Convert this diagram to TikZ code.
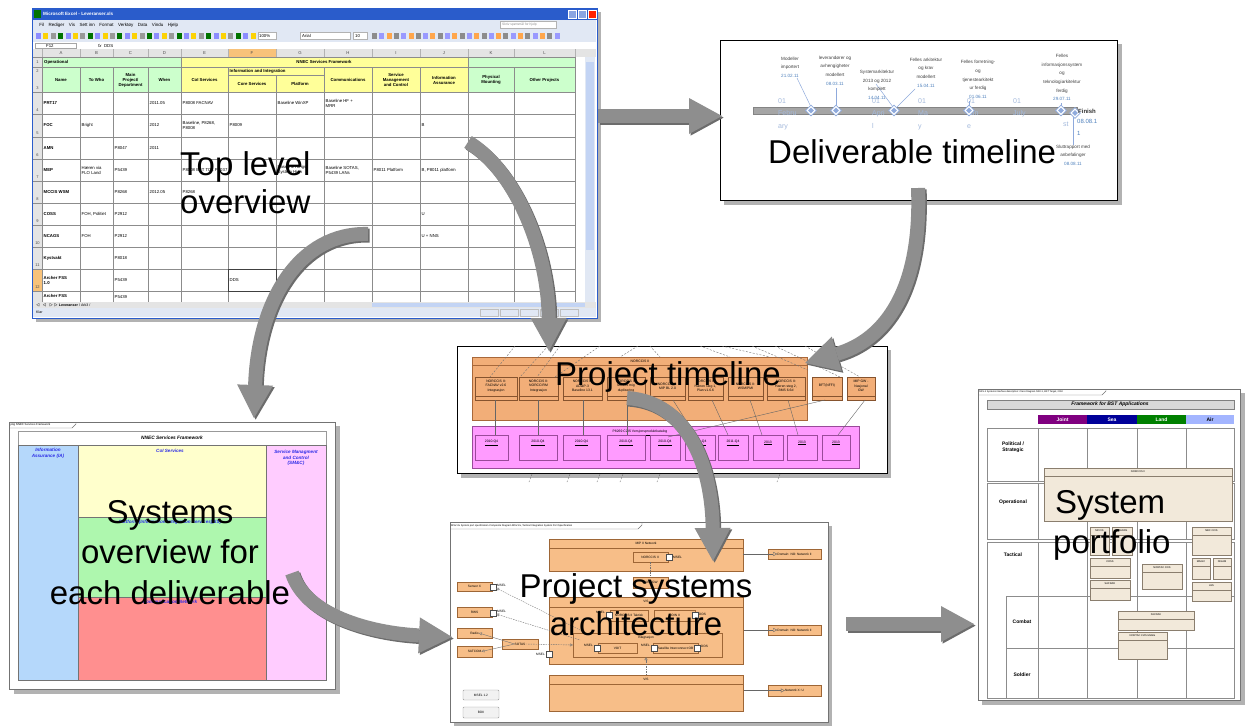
\documentclass[tikz,border=0pt]{standalone}
\usepackage{fontspec}
\setmainfont{Liberation Sans}
\usetikzlibrary{arrows.meta,shapes.geometric}
\definecolor{arrowgray}{HTML}{8E8E8E}
\definecolor{arrowshadow}{HTML}{6C6C6C}
\definecolor{xpblue}{HTML}{2A5CCB}
\definecolor{xpbar}{HTML}{E1E8F4}
\definecolor{hdrgray}{HTML}{E4E4E4}
\definecolor{xlgreen}{HTML}{CCFFCC}
\definecolor{xlyellow}{HTML}{FFFF99}
\definecolor{selorange}{HTML}{F8C27A}
\definecolor{scrollblue}{HTML}{C3D4F4}
\definecolor{tlbar}{HTML}{A5A5A5}
\definecolor{msblue}{HTML}{8FAADC}
\definecolor{datblue}{HTML}{4F81BD}
\definecolor{monblue}{HTML}{A3B9DC}
\definecolor{ptorange}{HTML}{F2AE78}
\definecolor{ptoborder}{HTML}{A8683A}
\definecolor{ptmag}{HTML}{FF9BFF}
\definecolor{ptmagb}{HTML}{9A4A9A}
\definecolor{iablue}{HTML}{B5D8FB}
\definecolor{coiyel}{HTML}{FFFFCC}
\definecolor{iisgreen}{HTML}{AEF7AE}
\definecolor{cnred}{HTML}{FF8F8F}
\definecolor{smpink}{HTML}{FFCCFF}
\definecolor{labblue}{HTML}{2A2AE6}
\definecolor{psorange}{HTML}{F7BE88}
\definecolor{psborder}{HTML}{9E6636}
\definecolor{cream}{HTML}{F2E9DA}
\definecolor{creamb}{HTML}{8A7E6E}
\definecolor{jointc}{HTML}{800080}
\definecolor{seac}{HTML}{000099}
\definecolor{landc}{HTML}{008000}
\definecolor{airc}{HTML}{A3B5FF}
\tikzset{
  bigl/.style={font=\fontsize{33}{38}\selectfont, inner sep=0pt, anchor=base west},
  bigc/.style={font=\fontsize{33}{38}\selectfont, inner sep=0pt, anchor=base},
  xt/.style={font=\fontsize{4.3}{5}\selectfont, inner sep=0pt, anchor=west, align=left},
  xh/.style={font=\bfseries\fontsize{4.3}{5}\selectfont, inner sep=0pt, align=center},
  xgrid/.style={draw=black!45, line width=0.4pt},
  ms/.style={font=\fontsize{4.6}{8.6}\selectfont, text=black!75, align=center, inner sep=0pt},
  mon/.style={font=\fontsize{7}{12.5}\selectfont, text=monblue, align=left, inner sep=0pt, anchor=north west},
  pt/.style={font=\fontsize{3.4}{4.3}\selectfont, inner sep=0pt, align=center},
  pa/.style={font=\fontsize{3.2}{3.8}\selectfont, inner sep=0pt, align=center},
  sov/.style={font=\bfseries\itshape\fontsize{4.6}{5.6}\selectfont, text=labblue, inner sep=0pt, align=center},
  pf/.style={font=\bfseries\fontsize{5}{6.2}\selectfont, inner sep=0pt, align=center},
  pfbox/.style={fill=cream, draw=creamb, line width=0.4pt},
  psbox/.style={fill=psorange, draw=psborder, line width=0.4pt},
  port/.style={fill=white, draw=black!70, line width=0.3pt},
  bigarrow/.style={line width=14pt, draw=arrowgray, -{Triangle[width=36pt,length=33pt,line width=0pt]}},
  arrowsh/.style={line width=14pt, draw=arrowshadow, -{Triangle[width=36pt,length=33pt,line width=0pt]}, transform canvas={shift={(1.6pt,-1.6pt)}}},
  tab/.style={draw=black!55, line width=0.4pt}
}
\begin{document}
\begin{tikzpicture}[x=1pt,y=-1pt]
\useasboundingbox (0,0) rectangle (1251,726);
\fill[white] (0,0) rectangle (1251,726);

% ================= Panel 1: Excel =================
\fill[black!30] (36,12) rectangle (601,322);
\node[anchor=north west, minimum width=565pt, minimum height=310pt, inner sep=0pt, fill=white, draw=xpblue, line width=1pt] (excel) at (32,8) {};
\fill[xpblue] (32,8) rectangle (597,20);
\fill[green!45!black] (34,10) rectangle (41,18);
\node[font=\bfseries\fontsize{4.6}{5}\selectfont, text=white, inner sep=0pt, anchor=west] (xltitle) at (43,14) {Microsoft Excel - Leveranser.xls};
\filldraw[fill=xpblue!55!white, draw=white, line width=0.4pt] (568,10) rectangle (576,18);
\filldraw[fill=xpblue!55!white, draw=white, line width=0.4pt] (578,10) rectangle (586,18);
\filldraw[fill=red!75!orange, draw=white, line width=0.4pt] (588,10) rectangle (596,18);
\fill[xpbar] (33,20) rectangle (596,42);
\node[xt] (xlmenu) at (37,25) {\fontsize{4.5}{5}\selectfont\,\,\,Fil\quad Rediger\quad Vis\quad Sett inn\quad Format\quad Verktøy\quad Data\quad Vindu\quad Hjelp};
\filldraw[fill=white, draw=black!30, line width=0.3pt] (500,21.5) rectangle (556,28.5);
\node[xt, text=black!45] (xlhelp) at (502,25) {\fontsize{3.3}{4}\selectfont Skriv spørsmål for hjelp};
\foreach \i in {0,...,29}{
  \pgfmathtruncatemacro\m{mod(\i,4)}
  \ifcase\m \def\cc{blue!45}\or \def\cc{yellow!70!orange}\or \def\cc{black!40}\or \def\cc{green!45!black}\fi
  \fill[\cc] (36+7.4*\i,33) rectangle ++(5,6);}
\filldraw[fill=white, draw=black!30, line width=0.3pt] (258,32.5) rectangle (276,39.5);
\node[xt] (xlzoom) at (259,36) {100\%};
\filldraw[fill=white, draw=black!30, line width=0.3pt] (300,32.5) rectangle (350,39.5);
\node[xt] (xlfont) at (302,36) {Arial};
\filldraw[fill=white, draw=black!30, line width=0.3pt] (353,32.5) rectangle (367,39.5);
\node[xt] (xlsize) at (355,36) {10};
\foreach \i in {0,...,25}{
  \pgfmathtruncatemacro\m{mod(\i,3)}
  \ifcase\m \def\cc{black!45}\or \def\cc{blue!40}\or \def\cc{orange!70}\fi
  \fill[\cc] (372+7.3*\i,33) rectangle ++(5,6);}
% formula bar
\fill[white] (33,42) rectangle (596,49);
\draw[black!35, line width=0.3pt] (35,43) rectangle (76,48.5);
\node[xt] (xlcell) at (46,45.8) {F12};
\node[xt] (xldds) at (98,45.8) {\textit{fx}\; DDS};
% headers
\fill[hdrgray] (33,49) rectangle (596,57);
\fill[selorange] (228,49) rectangle (276,57);
\fill[hdrgray] (33,57) rectangle (42,302);
\fill[selorange] (33,269) rectangle (42,291);
\foreach \a/\b/\l [count=\n] in {42/80/A,80/113/B,113/148/C,148/181/D,181/228/E,228/276/F,276/324/G,324/372/H,372/420/I,420/468/J,468/514/K,514/575/L}
  \node[font=\fontsize{4.3}{5}\selectfont, inner sep=0pt, text=black!70] (xcol\n) at ({(\a+\b)/2},53) {\l};
\fill[xlgreen] (42,57) rectangle (181,92);
\fill[xlyellow] (181,57) rectangle (468,92);
\fill[xlgreen] (468,57) rectangle (575,92);
% grid
\foreach \c in {42,80,113,148,181,228,276,324,372,420,468,514,575}
  \draw[black!30, line width=0.3pt] (\c,49) -- (\c,57);
\foreach \c in {42,181,468,575} \draw[xgrid] (\c,57) -- (\c,67);
\foreach \c in {42,80,113,148,181,228,324,372,420,468,514,575} \draw[xgrid] (\c,67) -- (\c,92);
\draw[xgrid] (276,75) -- (276,92);
\draw[xgrid] (228,75) -- (324,75);
\foreach \c in {42,80,113,148,181,228,276,324,372,420,468,514,575} \draw[xgrid] (\c,92) -- (\c,302);
\foreach \r in {57,67,92,114,137,159,181,203,225,247,269,291} \draw[xgrid] (33,\r) -- (575,\r);
\draw[black!75, line width=0.9pt] (228,269) rectangle (276,291);
% header texts
\node[xh, anchor=west] (h1) at (44,62) {Operational};
\node[xh] (h2) at (324,62) {NNEC Services Framework};
\node[xh] (h3) at (61,80) {Name};
\node[xh] (h4) at (96.5,80) {To Who};
\node[xh] (h5) at (130.5,80) {Main\\Project/\\Department};
\node[xh] (h6) at (164.5,80) {When};
\node[xh] (h7) at (204.5,80) {CoI Services};
\node[xh, anchor=west] (h8) at (229.5,71) {Information and Integration};
\node[xh] (h9) at (252,84) {Core Services};
\node[xh] (h10) at (300,84) {Platform};
\node[xh] (h11) at (348,80) {Communications};
\node[xh] (h12) at (396,80) {Service\\Management\\and Control};
\node[xh] (h13) at (444,80) {Information\\Assurance};
\node[xh] (h14) at (491,80) {Physical\\Mounting};
\node[xh] (h15) at (544.5,80) {Other Projects};
\foreach \y/\l [count=\n] in {62/1,71/2,88/3,110/4,133/5,155/6,177/7,199/8,221/9,243/10,265/11,287/12}
  \node[font=\fontsize{4}{5}\selectfont, inner sep=0pt, text=black!70] (xrow\n) at (37.5,\y) {\l};
\begin{scope}
\clip (42,92) rectangle (575,302);
\foreach \x/\y/\t [count=\n] in {
  43.5/103/\textbf{PRT17}, 149.5/103/2011.05, 182.5/103/P8008 FACNAV, 277.5/103/Baseline WinXP, 325.5/103/{Baseline HF +\\MRR},
  43.5/125.5/\textbf{FOC}, 81.5/125.5/Bright, 149.5/125.5/2012, 182.5/125.5/{Baseline, P8268,\\P8008}, 229.5/125.5/P8009, 421.5/125.5/B,
  43.5/148/\textbf{AMN}, 114.5/148/P8047, 149.5/148/2011,
  43.5/170/\textbf{MEP}, 81.5/170/{Hæren via\\FLO Land}, 114.5/170/P5439, 182.5/170/P8008 BFT TDL P8037, 277.5/170/{Baseline Rings\\System High}, 325.5/170/{Baseline SOTAS,\\P5439 LANs}, 373.5/170/P8011 Platform, 421.5/170/{B, P8011 platform},
  43.5/192/\textbf{MCCIS WSM}, 114.5/192/P8268, 149.5/192/2012.05, 182.5/192/P8268,
  43.5/214/\textbf{COSS}, 81.5/214/{FOH, Politiet}, 114.5/214/P2912, 421.5/214/U,
  43.5/236/\textbf{NCAGS}, 81.5/236/FOH, 114.5/236/P2912, 421.5/236/U + NNS,
  43.5/258/\textbf{Kystvakt}, 114.5/258/P8018,
  43.5/280/{\textbf{Archer FSS}\\\textbf{1.0}}, 114.5/280/P5439, 229.5/280/DDS,
  43.5/296/\textbf{Archer FSS}, 114.5/297/P5439}
  \node[xt] (xd\n) at (\x,\y) {\t};
\end{scope}
% scrollbars, tabs, status
\fill[xpbar] (585,57) rectangle (595,302);
\fill[scrollblue] (586,62) rectangle (594,250);
\fill[hdrgray] (33,302) rectangle (596,308);
\node[xt] (xltabs) at (36,305) {\fontsize{3.6}{4}\selectfont $\triangleleft\,\triangleleft\,\triangleright\,\triangleright$\;\textbf{Leveranser} / Ark3 /};
\fill[scrollblue] (372,303) rectangle (585,307);
\fill[xpbar] (33,308) rectangle (596,317);
\node[xt] (xlstatus) at (36,312.5) {\fontsize{3.6}{4}\selectfont Klar};
\foreach \x in {480,500,520,540,560} \draw[black!25, line width=0.3pt] (\x,309) rectangle ++(18,7);

% ================= Panel 2: Deliverable timeline =================
\fill[black!30] (724,44) rectangle (1122,205);
\node[anchor=north west, minimum width=397pt, minimum height=160pt, inner sep=0pt, fill=white, draw=black, line width=1pt] (dtl) at (720,40) {};
\node[draw=tlbar!80!black, fill=tlbar, line width=0.3pt, anchor=north west, minimum width=324pt, minimum height=7.3pt, inner sep=0pt] (tlbar) at (753,106.7) {};
\node[mon] (m1) at (778,98) {01\\Febru\\ary};
\node[mon] (m2) at (872,98) {01\\Apri\\l};
\node[mon] (m3) at (918,98) {01\\Ma\\y};
\node[mon] (m4) at (967,98) {01\\Jun\\e};
\node[mon] (m5) at (1013,98) {01\\July};
\node[mon] (m6) at (1063,122) {st};
\draw[msblue, line width=0.5pt] (797,78) -- (811,107);
\draw[msblue, line width=0.5pt] (836,88) -- (836,107);
\draw[msblue, line width=0.5pt] (876,84) -- (893,107);
\draw[msblue, line width=0.5pt] (915,89) -- (897,107);
\draw[msblue, line width=0.5pt] (969,101) -- (969,107);
\draw[msblue, line width=0.5pt] (1061,103) -- (1061,107);
\draw[msblue, line width=0.5pt] (1073,116) -- (1073,145);
\foreach \x/\y [count=\n] in {811/110.5,836/110.5,894/110.5,969/110.5,1061/110.5,1075/113}{
  \node[diamond, draw=msblue, fill=white, line width=0.7pt, minimum size=11pt, inner sep=0pt] (dia\n) at (\x,\y) {};
  \node[diamond, fill=msblue, minimum size=6pt, inner sep=0pt] (dib\n) at (\x,\y) {};}
\node[ms] (l1) at (790,67) {Modeller\\importert\\\textcolor{datblue}{21.02.11}};
\node[ms] (l2) at (835,70.5) {leverandører og\\avhengigheter\\modellert\\\textcolor{datblue}{08.03.11}};
\node[ms] (l3) at (877,85) {Systemarkitektur\\2013 og 2012\\komplett\\\textcolor{datblue}{14.04.11}};
\node[ms] (l4) at (926,72.5) {Felles arkitektur\\og krav\\modellert\\\textcolor{datblue}{15.04.11}};
\node[ms] (l5) at (978,79.5) {Felles forretning-\\og\\tjenestearkitekt\\ur ferdig\\\textcolor{datblue}{01.06.11}};
\node[ms] (l6) at (1062,77.5) {Felles\\informasjonssystem\\og\\teknologiarkitektur\\ferdig\\\textcolor{datblue}{29.07.11}};
\node[font=\bfseries\fontsize{6}{7}\selectfont, inner sep=0pt, anchor=west, text=black!80] (fin) at (1078,111) {Finish};
\node[font=\fontsize{6}{12}\selectfont, inner sep=0pt, anchor=north west, text=datblue, align=left] (find) at (1077,119) {08.08.1\\1};
\node[ms] (l7) at (1073,155) {Sluttrapport med\\anbefalinger\\\textcolor{datblue}{08.08.11}};

% ================= Panel 3: Project timeline =================
\fill[black!30] (461,350) rectangle (891,478);
\node[anchor=north west, minimum width=430pt, minimum height=127pt, inner sep=0pt, fill=white, draw=black, line width=1pt] (ptl) at (457,346) {};
\node[anchor=north west, minimum width=335pt, minimum height=63pt, inner sep=0pt, fill=ptorange, draw=ptoborder, line width=0.4pt] (ptcont) at (472,357) {};
\draw[ptoborder, line width=0.4pt] (472,365) -- (807,365);
\node[pt] (ptct) at (640,361) {NORCCIS II};
\foreach \a/\b/\t [count=\n] in {475/517/{NORCCIS II:\\FACNAV v2.6\\Integrasjon}, 519/558/{NORCCIS II:\\NORCCIRM\\Integrasjon}, 563/602/{NORCCIS II:\\ADatP-3\\Baseline 13.1}, 607/645/{NORCCIS II:\\MCCIS mig\\duplisering}, 650/685/{NORCCIS II:\\MIP BL 2.0}, 688/723/{NORCCIS II:\\Hæren steg 1,\\Plan v1.6.6}, 728/763/{NORCCIS II:\\WSM/PMI}, 767/805/{NORCCIS II:\\Hæren steg 2,\\BMS 6.6d}, 812/842/{BFT(NFFI)}, 847/875/{MIP GW -\\Nasjonal\\GW}}{
  \filldraw[fill=ptorange, draw=ptoborder!80!black, line width=0.4pt] (\a,377) rectangle (\b,400);
  \draw[ptoborder!80!black, line width=0.3pt] (\a,396) -- (\b,396);
  \node[pt] (ptb\n) at ({(\a+\b)/2},386) {\t};}
\node[anchor=north west, minimum width=387pt, minimum height=42pt, inner sep=0pt, fill=ptmag, draw=ptmagb, line width=0.4pt] (ptmagc) at (472,426) {};
\node[pt] (ptmt) at (640,433) {\underline{P8269 C2IS Versjonsproduktkatalog}};
\foreach \a/\b/\t [count=\n] in {475/508/2010-Q4, 519/557/2010-Q4, 563/600/2010-Q4, 607/645/2010-Q4, 650/680/2010-Q4, 685/715/2011-Q4, 718/748/2011-Q4, 753/783/2013, 787/817/2013, 822/850/2013}{
  \filldraw[fill=ptmag, draw=ptmagb, line width=0.4pt] (\a,435) rectangle (\b,460);
  \node[pt] (ptm\n) at ({(\a+\b)/2},443) {\underline{\t}};}
\foreach \a/\b/\c/\d in {495/400/495/435, 538/400/538/435, 583/400/583/435, 627/400/627/435, 673/400/695/435, 712/400/728/435, 750/400/762/435, 788/400/798/435, 825/400/668/437, 865/400/838/435}
  \draw[black!60, line width=0.4pt] (\a,\b) -- (\c,\d);
\begin{scope}
\clip (457,346) rectangle (887,377);
\foreach \a/\b/\c/\d in {548/346/520/377, 560/346/537/377, 600/346/555/377, 638/346/620/357, 650/346/660/357, 700/346/730/357, 722/346/770/357, 752/346/808/370, 775/346/840/377, 805/346/860/377, 842/346/832/357, 515/346/490/377}
  \draw[black!55, line width=0.4pt, dash pattern=on 2pt off 1.5pt] (\a,\b) -- (\c,\d);
\end{scope}
\foreach \x in {532,570,600,623,660,780}
  \draw[black!55, line width=0.4pt, dash pattern=on 2pt off 1.5pt] (\x,474) -- (\x-3,482);

% ================= Panel 4: Systems overview =================
\fill[black!30] (14,426) rectangle (340,694);
\node[anchor=north west, minimum width=326pt, minimum height=267pt, inner sep=0pt, fill=white, draw=black!55, line width=0.5pt] (sov) at (9,422) {};
\draw[tab] (9,428) -- (72,428) -- (76,424) -- (76,422);
\node[font=\fontsize{2.8}{3}\selectfont, inner sep=0pt, anchor=west] (sovtab) at (10.5,425) {pkg NNEC Services Framework};
\filldraw[fill=white, draw=black!40, line width=0.4pt] (18,431) rectangle (326,445);
\node[font=\bfseries\itshape\fontsize{4.8}{5.6}\selectfont, inner sep=0pt] (sovh) at (172,438) {NNEC Services Framework};
\filldraw[fill=iablue, draw=black!55, line width=0.4pt] (18,445) rectangle (78,680);
\filldraw[fill=coiyel, draw=black!55, line width=0.4pt] (78,445) rectangle (266,517);
\filldraw[fill=iisgreen, draw=black!55, line width=0.4pt] (78,517) rectangle (266,597);
\filldraw[fill=cnred, draw=black!55, line width=0.4pt] (78,597) rectangle (266,680);
\filldraw[fill=smpink, draw=black!55, line width=0.4pt] (266,445) rectangle (326,680);
\node[sov] (sia) at (48,453.5) {Information\\Assurance (IA)};
\node[sov] (scoi) at (170,451) {CoI Services};
\node[sov] (ssm) at (296,458) {Service Managment\\and Control\\(SM\&C)};
\node[sov] (siis) at (170,522) {Platform (Information Integration Services)(IIS)};
\node[sov] (scn) at (170,602) {Communication Network};

% ================= Panel 5: Project systems architecture =================
\fill[black!30] (454,526) rectangle (832,726);
\node[anchor=north west, minimum width=378pt, minimum height=200pt, inner sep=0pt, fill=white, draw=black!55, line width=0.5pt] (psa) at (450,522) {};
\draw[tab] (450,529) -- (638,529) -- (642,525) -- (642,522);
\node[font=\fontsize{2.5}{3}\selectfont, inner sep=0pt, anchor=west] (psatab) at (451,525.5) {MSV-2a System port specification Composite Diagram MSV-2a, Tactical Integration System Port Specification};
\filldraw[psbox] (549,539) rectangle (743,571); \draw[psborder, line width=0.4pt] (549,548) -- (743,548);
\node[pa] (pmip) at (646,543.5) {MIP II Network};
\filldraw[psbox] (633,552) rectangle (668,562); \node[pa] (pnor) at (650,557) {NORCCIS II};
\filldraw[port] (666,554) rectangle (672,560); \node[pa, anchor=west] (pms1) at (673,557) {MSEL};
\filldraw[psbox] (768,549) rectangle (821,559); \node[pa] (pd1) at (794.5,554) {Domain: NO: Network II};
\filldraw[psbox] (768,625) rectangle (821,635); \node[pa] (pd2) at (794.5,630) {Domain: NO: Network II};
\filldraw[psbox] (768,685) rectangle (821,696); \node[pa] (pd3) at (794.5,690.5) {Network X: U};
\draw[black!60, line width=0.4pt, -{Triangle[open, length=4pt, width=4pt]}] (743,554) -- (pd1.west);
\draw[black!60, line width=0.4pt, -{Triangle[open, length=4pt, width=4pt]}] (743,630) -- (pd2.west);
\draw[black!60, line width=0.4pt, -{Triangle[open, length=4pt, width=4pt]}] (743,690.5) -- (pd3.west);
\filldraw[psbox] (549,597) rectangle (743,664); \draw[psborder, line width=0.4pt] (549,607) -- (743,607);
\node[pa] (pvis) at (646,601.5) {VIS};
\filldraw[psbox] (633,577) rectangle (668,588); \node[pa] (pmid) at (650,582.5) {MSEL GW};
\draw[black!55, line width=0.4pt, dash pattern=on 1.5pt off 1pt] (650,562) -- (650,577);
\filldraw[psbox] (610,610) rectangle (648,621); \node[pa] (ptak) at (629,615.5) {NORCCIS II Taktisk};
\filldraw[port] (606,612) rectangle (612,618); \node[pa, anchor=east] (pms2) at (605,612) {MSEL};
\filldraw[psbox] (654,610) rectangle (695,621); \node[pa] (podin) at (674.5,615.5) {ODIN II};
\filldraw[port] (692,612) rectangle (698,618); \node[pa, anchor=west] (pdds1) at (699,614) {DDS};
\filldraw[psbox] (573,633) rectangle (722,657); \node[pa] (pint) at (646,638) {Integrasjon};
\filldraw[psbox] (598,643) rectangle (637,653); \node[pa] (pvoit) at (617.5,648) {VOIT};
\filldraw[port] (594,645) rectangle (600,651); \node[pa, anchor=east] (pms3) at (593,645) {MSEL};
\filldraw[psbox] (653,643) rectangle (698,653); \node[pa] (psat) at (675.5,648) {Satellite Interconnect OB};
\filldraw[port] (651,645) rectangle (657,651); \node[pa, anchor=east] (pms4) at (650,645) {MSEL};
\filldraw[port] (694,645) rectangle (700,651); \node[pa, anchor=west] (pdds2) at (701,646) {DDS};
\filldraw[psbox] (549,675) rectangle (743,711); \draw[psborder, line width=0.4pt] (549,684) -- (743,684);
\node[pa] (pvis2) at (646,679.5) {VIS};
\draw[black!55, line width=0.4pt, dash pattern=on 1.5pt off 1pt, -{Triangle[open, length=3pt, width=3pt]}] (646,675) -- (646,657);
\filldraw[psbox] (457,582) rectangle (492,591); \node[pa] (psen) at (474.5,586.5) {Sensor X};
\filldraw[psbox] (457,607) rectangle (492,617); \node[pa] (prws) at (474.5,612) {RWS};
\filldraw[psbox] (457,628) rectangle (492,638); \node[pa] (prad) at (474.5,633) {Radio};
\filldraw[psbox] (457,646) rectangle (492,657); \node[pa] (psatc) at (474.5,651.5) {SATCOM};
\filldraw[psbox] (502,639) rectangle (538,649); \node[pa] (psot) at (520,644) {SOTAS};
\filldraw[port] (490,584) rectangle (496,590); \node[pa, anchor=west] (pms5) at (497,585) {MSEL};
\filldraw[port] (490,610) rectangle (496,616); \node[pa, anchor=west] (pms6) at (497,611) {MSEL};
\filldraw[port] (546,651) rectangle (552,657); \node[pa, anchor=east] (pms7) at (545,654) {MSEL};
\draw[black!55, line width=0.4pt, dash pattern=on 1.5pt off 1pt, {Triangle[open, length=3pt, width=3pt]}-] (496,588) -- (586,633);
\draw[black!55, line width=0.4pt, dash pattern=on 1.5pt off 1pt, {Triangle[open, length=3pt, width=3pt]}-] (496,614) -- (580,640);
\draw[black!55, line width=0.4pt, -{Triangle[open, length=3pt, width=3pt]}] (psot.west) -- (prad.east);
\draw[black!55, line width=0.4pt, -{Triangle[open, length=3pt, width=3pt]}] (psot.west) -- (psatc.east);
\draw[black!55, line width=0.4pt, dash pattern=on 1.5pt off 1pt, -{Triangle[open, length=3pt, width=3pt]}] (psot.east) -- (573,645);
\filldraw[fill=black!5, draw=black!40, line width=0.4pt, rounded corners=1pt] (463,690) rectangle (499,700);
\node[pa] (pmsel) at (481,695) {MSEL 1.2};
\filldraw[fill=black!5, draw=black!40, line width=0.4pt, rounded corners=1pt] (463,707) rectangle (499,718);
\node[pa] (pbdi) at (481,712.5) {BDII};

% ================= Panel 6: System portfolio =================
\fill[black!30] (982,393) rectangle (1245,705);
\node[anchor=north west, minimum width=262pt, minimum height=311pt, inner sep=0pt, fill=white, draw=black!55, line width=0.5pt] (spf) at (978,389) {};
\draw[tab] (978,395) -- (1102,395) -- (1106,391) -- (1106,389);
\node[font=\fontsize{2.4}{3}\selectfont, inner sep=0pt, anchor=west] (spftab) at (979,392) {NSV-1 Systems interface description: Class Diagram NSV-1, BST Target, 2010};
\filldraw[fill=black!15, draw=black!50, line width=0.4pt] (987,400) rectangle (1234,409);
\node[font=\bfseries\itshape\fontsize{5}{6}\selectfont, inner sep=0pt] (spfh) at (1110,404.5) {Framework for BST Applications};
\fill[jointc] (1038,415) rectangle (1087,424);
\fill[seac] (1087,415) rectangle (1137,424);
\fill[landc] (1137,415) rectangle (1186,424);
\fill[airc] (1186,415) rectangle (1234,424);
\node[pf, text=white] (cj) at (1062.5,419.5) {Joint};
\node[pf, text=white] (cs) at (1112,419.5) {Sea};
\node[pf, text=white] (cl) at (1161.5,419.5) {Land};
\node[pf] (ca) at (1210,419.5) {Air};
\draw[black!45, line width=0.4pt] (987,428) rectangle (1234,481);
\draw[black!45, line width=0.4pt] (987,483) rectangle (1234,539);
\draw[black!45, line width=0.4pt] (987,542) rectangle (1234,698);
\foreach \x in {1038,1087,1137,1186}{
  \draw[black!45, line width=0.4pt] (\x,428) -- (\x,481);
  \draw[black!45, line width=0.4pt] (\x,483) -- (\x,539);
  \draw[black!45, line width=0.4pt] (\x,542) -- (\x,698);}
\draw[black!45, line width=0.4pt] (1006,596) -- (1234,596);
\draw[black!45, line width=0.4pt] (1006,648) -- (1234,648);
\draw[black!45, line width=0.4pt] (1006,596) -- (1006,698);
\node[pf] (rps) at (1013,447) {Political /\\Strategic};
\node[pf] (rop) at (1013,502) {Operational};
\node[pf] (rta) at (1013,555) {Tactical};
\node[pf] (rco) at (1022,622) {Combat};
\node[pf] (rso) at (1022,675) {Soldier};
\foreach \a/\b/\c/\d/\t [count=\n] in {1044/468/1232/521/NORCCIS II, 1090/527/1109/555/MCCIS, 1112/527/1132/555/PRANDS, 1192/527/1231/555/NBC CCIS, 1090/558/1130/578/COSS / NCAGS, 1142/564/1182/589/NORTAC C2IS, 1192/558/1210/579/MAGIC, 1213/558/1231/579/DIGAM, 1192/582/1231/601/LES, 1090/580/1130/600/SAFRAD, 1118/611/1194/630/FACNAV, 1118/632/1167/659/NORTAC C2IS Mobile}{
  \filldraw[pfbox] (\a,\b) rectangle (\c,\d);
  \draw[creamb, line width=0.3pt] (\a,\b+8) -- (\c,\b+8);
  \node[font=\fontsize{2.6}{3}\selectfont, inner sep=0pt] (pfb\n) at ({(\a+\c)/2},\b+4) {\t};}

% ================= Arrows =================
\coordinate (aAs) at (598,116); \coordinate (aAe) at (722,116);
\coordinate (aBs) at (368,234); \coordinate (aBe) at (254,418);
\coordinate (aCs) at (468,142); \coordinate (aCe) at (549,351);
\coordinate (aDs) at (918,188); \coordinate (aDe) at (805,363);
\coordinate (aEs) at (627,398); \coordinate (aEe) at (713,561);
\coordinate (aFs) at (292,573); \coordinate (aFe) at (452,637);
\coordinate (aGs) at (846,624); \coordinate (aGe) at (974,624);
\draw[arrowsh] (aAs) -- (aAe);
\draw[bigarrow] (aAs) -- (aAe);
\draw[arrowsh] (aBs) .. controls (300,232) and (258,300) .. (aBe);
\draw[bigarrow] (aBs) .. controls (300,232) and (258,300) .. (aBe);
\draw[arrowsh] (aCs) .. controls (515,170) and (548,250) .. (aCe);
\draw[bigarrow] (aCs) .. controls (515,170) and (548,250) .. (aCe);
\draw[arrowsh] (aDs) .. controls (922,290) and (885,340) .. (aDe);
\draw[bigarrow] (aDs) .. controls (922,290) and (885,340) .. (aDe);
\draw[arrowsh] (aEs) .. controls (690,402) and (712,470) .. (aEe);
\draw[bigarrow] (aEs) .. controls (690,402) and (712,470) .. (aEe);
\draw[arrowsh] (aFs) .. controls (305,615) and (370,633) .. (aFe);
\draw[bigarrow] (aFs) .. controls (305,615) and (370,633) .. (aFe);
\draw[arrowsh] (aGs) -- (aGe);
\draw[bigarrow] (aGs) -- (aGe);

% ================= Big labels =================
\node[bigl] (lab1a) at (180,175) {Top level};
\node[bigl] (lab1b) at (180,213) {overview};
\node[bigl] (lab2) at (768,163) {Deliverable timeline};
\node[bigl] (lab3) at (555,385) {Project timeline};
\node[bigc] (lab4a) at (170,523) {Systems};
\node[bigc] (lab4b) at (170,563) {overview for};
\node[bigc] (lab4c) at (170,604) {each deliverable};
\node[bigc] (lab5a) at (636,597) {Project systems};
\node[bigc] (lab5b) at (636,635) {architecture};
\node[bigl] (lab6a) at (1055,513) {System};
\node[bigl] (lab6b) at (1053,553) {portfolio};
\end{tikzpicture}
\end{document}
